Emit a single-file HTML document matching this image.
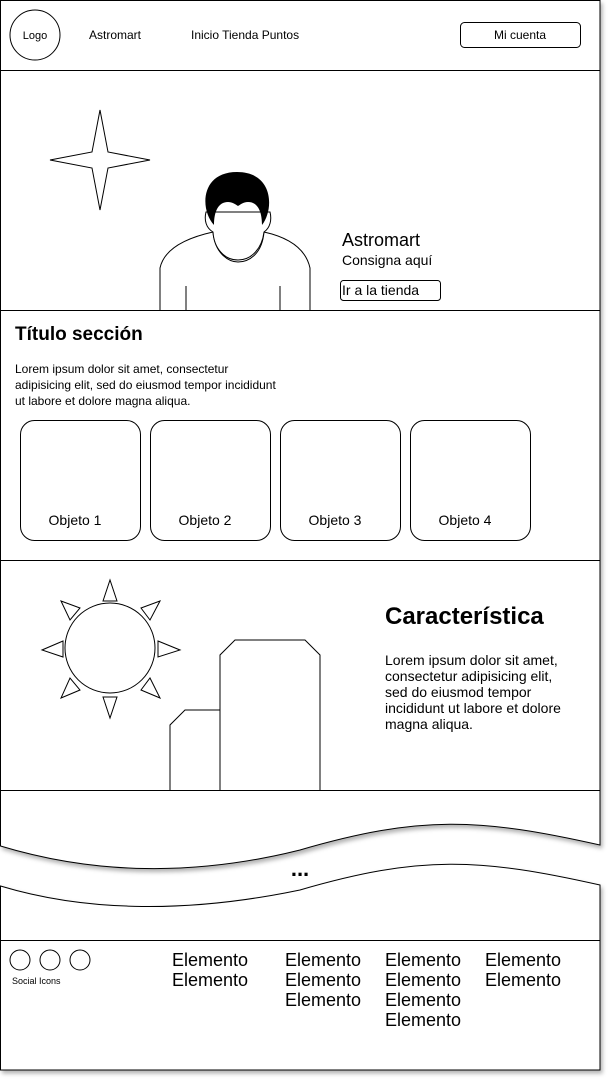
<!DOCTYPE html>
<html><head><meta charset="utf-8"><style>
html,body{margin:0;padding:0;background:#fff;}
svg{display:block;}
text{font-family:"Liberation Sans",Arial,sans-serif;fill:#000;}
</style></head><body>
<svg width="612" height="1082" viewBox="0 0 612 1082" xmlns="http://www.w3.org/2000/svg">
<defs><filter id="sh" x="-5%" y="-5%" width="110%" height="110%"><feDropShadow dx="2" dy="3" stdDeviation="2" flood-color="#000" flood-opacity="0.3"/></filter></defs>
<g fill="#fff" stroke="#000" stroke-width="1">
<path d="M0.5,0.5 H600 V845 C480,818 420,815 300,850 C180,880 80,870 0.5,846 Z" filter="url(#sh)"/>
<path d="M0.5,886 C80,910 180,915 300,890 C420,855 480,858 600,885 V1070 H0.5 Z" filter="url(#sh)"/>
</g>
<g stroke="#000" fill="none" stroke-width="1">
<line x1="0" y1="70.5" x2="600" y2="70.5"/>
<line x1="0" y1="310.5" x2="600" y2="310.5"/>
<line x1="0" y1="560.5" x2="600" y2="560.5"/>
<line x1="0" y1="790.5" x2="600" y2="790.5"/>
<line x1="0" y1="940.5" x2="600" y2="940.5"/>
<circle cx="35" cy="35" r="25"/>
<rect x="460.5" y="22.5" width="120" height="25" rx="4"/>
<path d="M100,110 L108,152 L150,160 L108,168 L100,210 L92,168 L50,160 L92,152 Z"/>
<path d="M160,310 V268 C165,245 195,236 213,232 C215,255 230,262 238,262 C248,262 262,255 264,232 C282,236 305,245 310,268 V310"/>
<line x1="186" y1="286" x2="186" y2="310"/>
<line x1="280" y1="286" x2="280" y2="310"/>
<rect x="340.5" y="280.5" width="100" height="20" rx="3"/>
<rect x="20.5" y="420.5" width="120" height="120" rx="14"/>
<rect x="150.5" y="420.5" width="120" height="120" rx="14"/>
<rect x="280.5" y="420.5" width="120" height="120" rx="14"/>
<rect x="410.5" y="420.5" width="120" height="120" rx="14"/>
<circle cx="110" cy="648" r="45"/>
<path d="M103,601 L110,580 L117,601 Z"/>
<path d="M103,697 L110,718 L117,697 Z"/>
<path d="M63,641 L42,650 L63,657 Z"/>
<path d="M158,641 L180,650 L158,657 Z"/>
<path d="M61,601 L80,608 L70,620 Z"/>
<path d="M160,601 L141,608 L150,620 Z"/>
<path d="M61,698 L80,690 L70,678 Z"/>
<path d="M160,698 L141,690 L150,678 Z"/>
<path d="M220,790 V655 L235,640 H305 L320,655 V790"/>
<path d="M170,790 V725 L185,710 H220"/>
<circle cx="20" cy="960" r="10"/>
<circle cx="50" cy="960" r="10"/>
<circle cx="80" cy="960" r="10"/>
</g>
<!-- face -->
<path d="M213,232 C206,228 204,220 206,212 L270,212 C272,220 270,228 264,232 C262,248 252,260 238,260 C224,260 214,248 213,232 Z" fill="#fff" stroke="#000"/>
<!-- hair -->
<path d="M214,225 C200,210 200,172 237,172 C274,172 274,210 262,225 C262,212 258,202 248,202 C243,202 240,205 238,206 C235,204 232,202 228,202 C218,202 214,212 214,225 Z" fill="#000"/>
<text x="35" y="39" font-size="11" text-anchor="middle">Logo</text>
<text x="89" y="39" font-size="12">Astromart</text>
<text x="191" y="39" font-size="12">Inicio Tienda Puntos</text>
<text x="520" y="39" font-size="12" text-anchor="middle">Mi cuenta</text>
<text x="342" y="246" font-size="18">Astromart</text>
<text x="342" y="265" font-size="14">Consigna aquí</text>
<text x="342" y="295" font-size="14">Ir a la tienda</text>
<text x="15" y="340" font-size="19" font-weight="bold">Título sección</text>
<text font-size="12"><tspan x="15" y="373">Lorem ipsum dolor sit amet, consectetur</tspan><tspan x="15" y="389">adipisicing elit, sed do eiusmod tempor incididunt</tspan><tspan x="15" y="405">ut labore et dolore magna aliqua.</tspan></text>
<text x="75" y="525" font-size="14" text-anchor="middle">Objeto 1</text>
<text x="205" y="525" font-size="14" text-anchor="middle">Objeto 2</text>
<text x="335" y="525" font-size="14" text-anchor="middle">Objeto 3</text>
<text x="465" y="525" font-size="14" text-anchor="middle">Objeto 4</text>
<text x="385" y="624" font-size="24" font-weight="bold">Característica</text>
<text font-size="14"><tspan x="385" y="665">Lorem ipsum dolor sit amet,</tspan><tspan x="385" y="681">consectetur adipisicing elit,</tspan><tspan x="385" y="697">sed do eiusmod tempor</tspan><tspan x="385" y="713">incididunt ut labore et dolore</tspan><tspan x="385" y="729">magna aliqua.</tspan></text>
<text x="300" y="876" font-size="22" font-weight="bold" text-anchor="middle">...</text>
<text x="12" y="984" font-size="9">Social Icons</text>
<g font-size="18">
<text x="172" y="966">Elemento</text><text x="172" y="986">Elemento</text>
<text x="285" y="966">Elemento</text><text x="285" y="986">Elemento</text><text x="285" y="1006">Elemento</text>
<text x="385" y="966">Elemento</text><text x="385" y="986">Elemento</text><text x="385" y="1006">Elemento</text><text x="385" y="1026">Elemento</text>
<text x="485" y="966">Elemento</text><text x="485" y="986">Elemento</text>
</g>
</svg>
</body></html>
